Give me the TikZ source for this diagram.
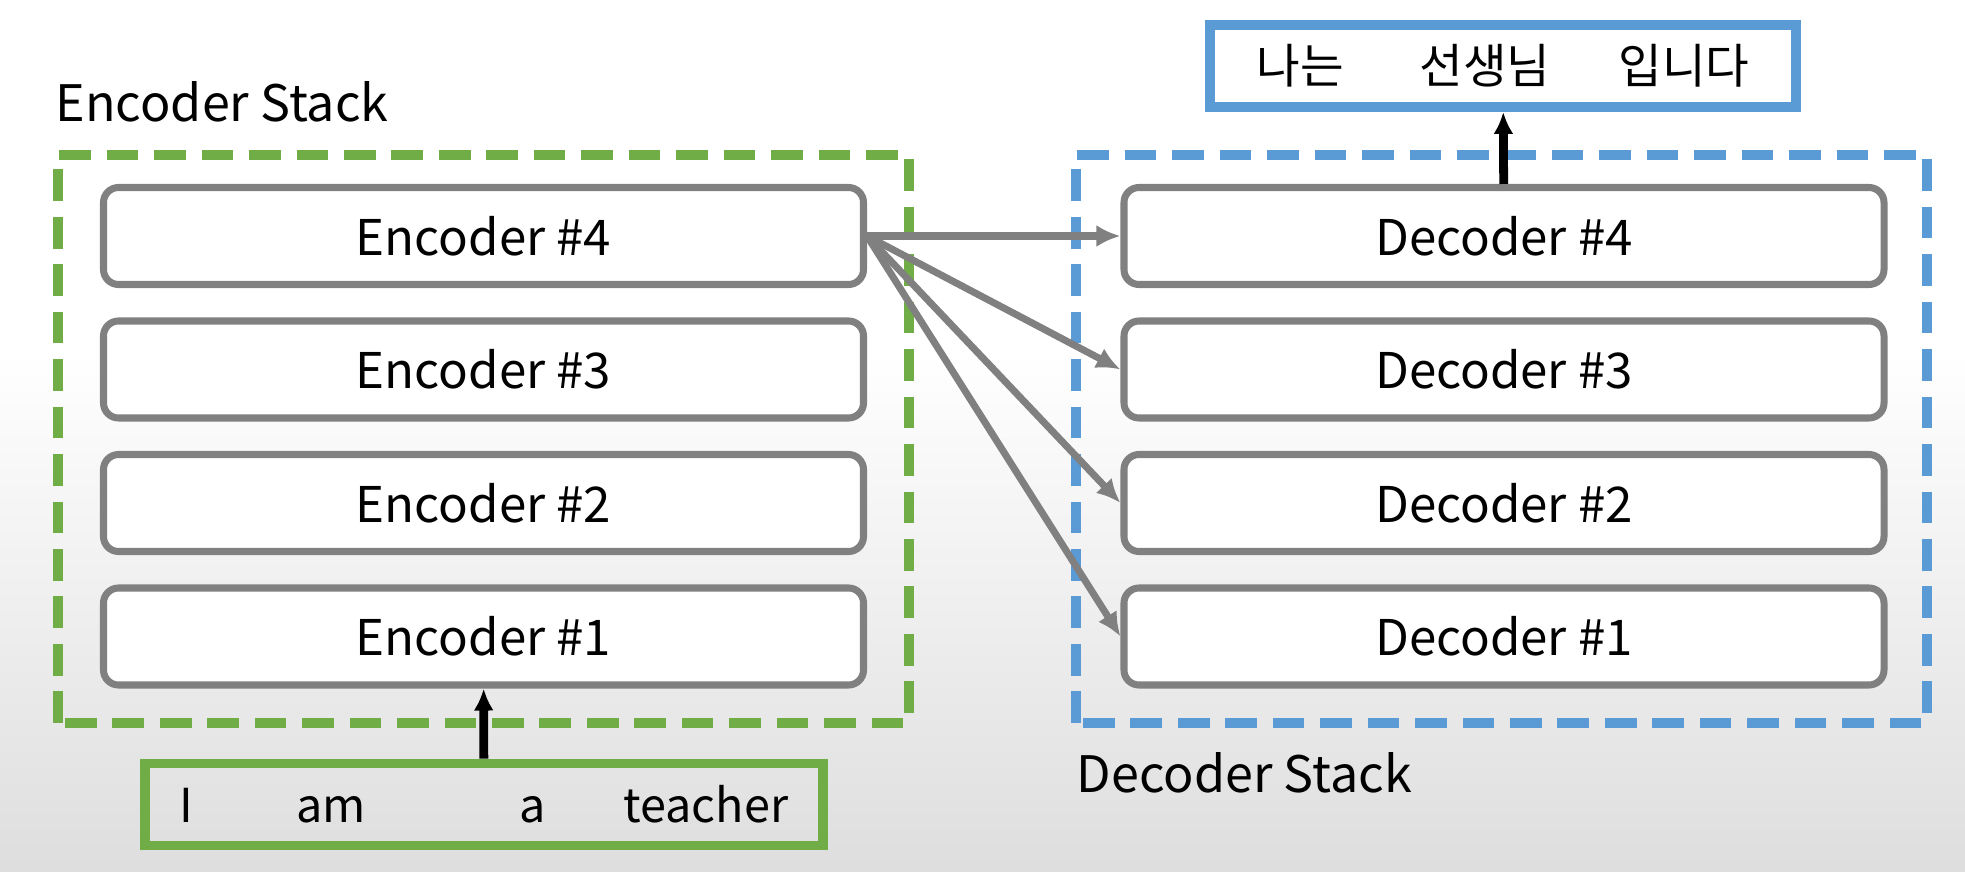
\documentclass[tikz,border=0pt]{standalone}
\usepackage{fontspec}
\setmainfont{Noto Sans CJK KR}
\usetikzlibrary{positioning, arrows.meta}

\definecolor{encgreen}{RGB}{112,173,71}
\definecolor{decblue}{RGB}{91,155,213}
\definecolor{blockgray}{RGB}{128,128,128}

\tikzset{
  block/.style={draw=blockgray, line width=2pt, rounded corners=0.15cm,
    fill=white, minimum width=7.6cm, minimum height=0.97cm,
    font=\fontsize{14}{16}\selectfont},
  stackline/.style={line width=3pt, dash pattern=on 9pt off 4.5pt},
  stacklabel/.style={anchor=base west, inner sep=0pt, font=\fontsize{14.3}{16}\selectfont},
  wordbox/.style={line width=2.8pt, minimum height=0.82cm},
  feed/.style={draw=blockgray, line width=2pt, -{Latex[length=0.24cm, width=0.22cm]}},
  flow/.style={draw=black, line width=2.5pt, -{Latex[length=0.22cm, width=0.2cm]}}
}

\begin{document}
\begin{tikzpicture}
  \useasboundingbox (0,0) rectangle (19.65,8.71);
  \fill [white] (0,0) rectangle (19.65,8.71);
  \shade [top color=white, bottom color=black!13] (0,0) rectangle (19.65,5.2);

  % the two stacks
  \draw [stackline, encgreen] (0.58,1.48) rectangle (9.09,7.16);
  \draw [stackline, decblue] (10.76,1.48) rectangle (19.27,7.16);
  \node (enclabel) at (0.55,7.49) [stacklabel] {Encoder Stack};
  \node (declabel) at (10.76,0.79) [stacklabel] {Decoder Stack};

  \node (enc4) at (4.835,6.35) [block] {Encoder \#4};
  \node (enc3) at (4.835,5.015) [block] {Encoder \#3};
  \node (enc2) at (4.835,3.68) [block] {Encoder \#2};
  \node (enc1) at (4.835,2.345) [block] {Encoder \#1};

  \node (dec4) at (15.04,6.35) [block] {Decoder \#4};
  \node (dec3) at (15.04,5.015) [block] {Decoder \#3};
  \node (dec2) at (15.04,3.68) [block] {Decoder \#2};
  \node (dec1) at (15.04,2.345) [block] {Decoder \#1};

  % input and output sentences
  \node (input) at (4.84,0.665) [wordbox, draw=encgreen, minimum width=6.78cm,
    font=\fontsize{13.3}{15}\selectfont]
    {I\hspace{1.03cm}am\hspace{1.53cm}a\hspace{0.78cm}teacher};
  \node (output) at (15.03,8.05) [wordbox, draw=decblue, fill=white, minimum width=5.86cm,
    font=\fontsize{13.5}{16}\selectfont] {나는\hspace{0.76cm}선생님\hspace{0.68cm}입니다};

  \draw [flow] (input) -- (enc1);
  \draw [flow] (dec4) -- (output);

  \draw [feed] (enc4.east) -- (dec4.west);
  \draw [feed] (enc4.east) -- (dec3.west);
  \draw [feed] (enc4.east) -- (dec2.west);
  \draw [feed] (enc4.east) -- (dec1.west);
\end{tikzpicture}
\end{document}
